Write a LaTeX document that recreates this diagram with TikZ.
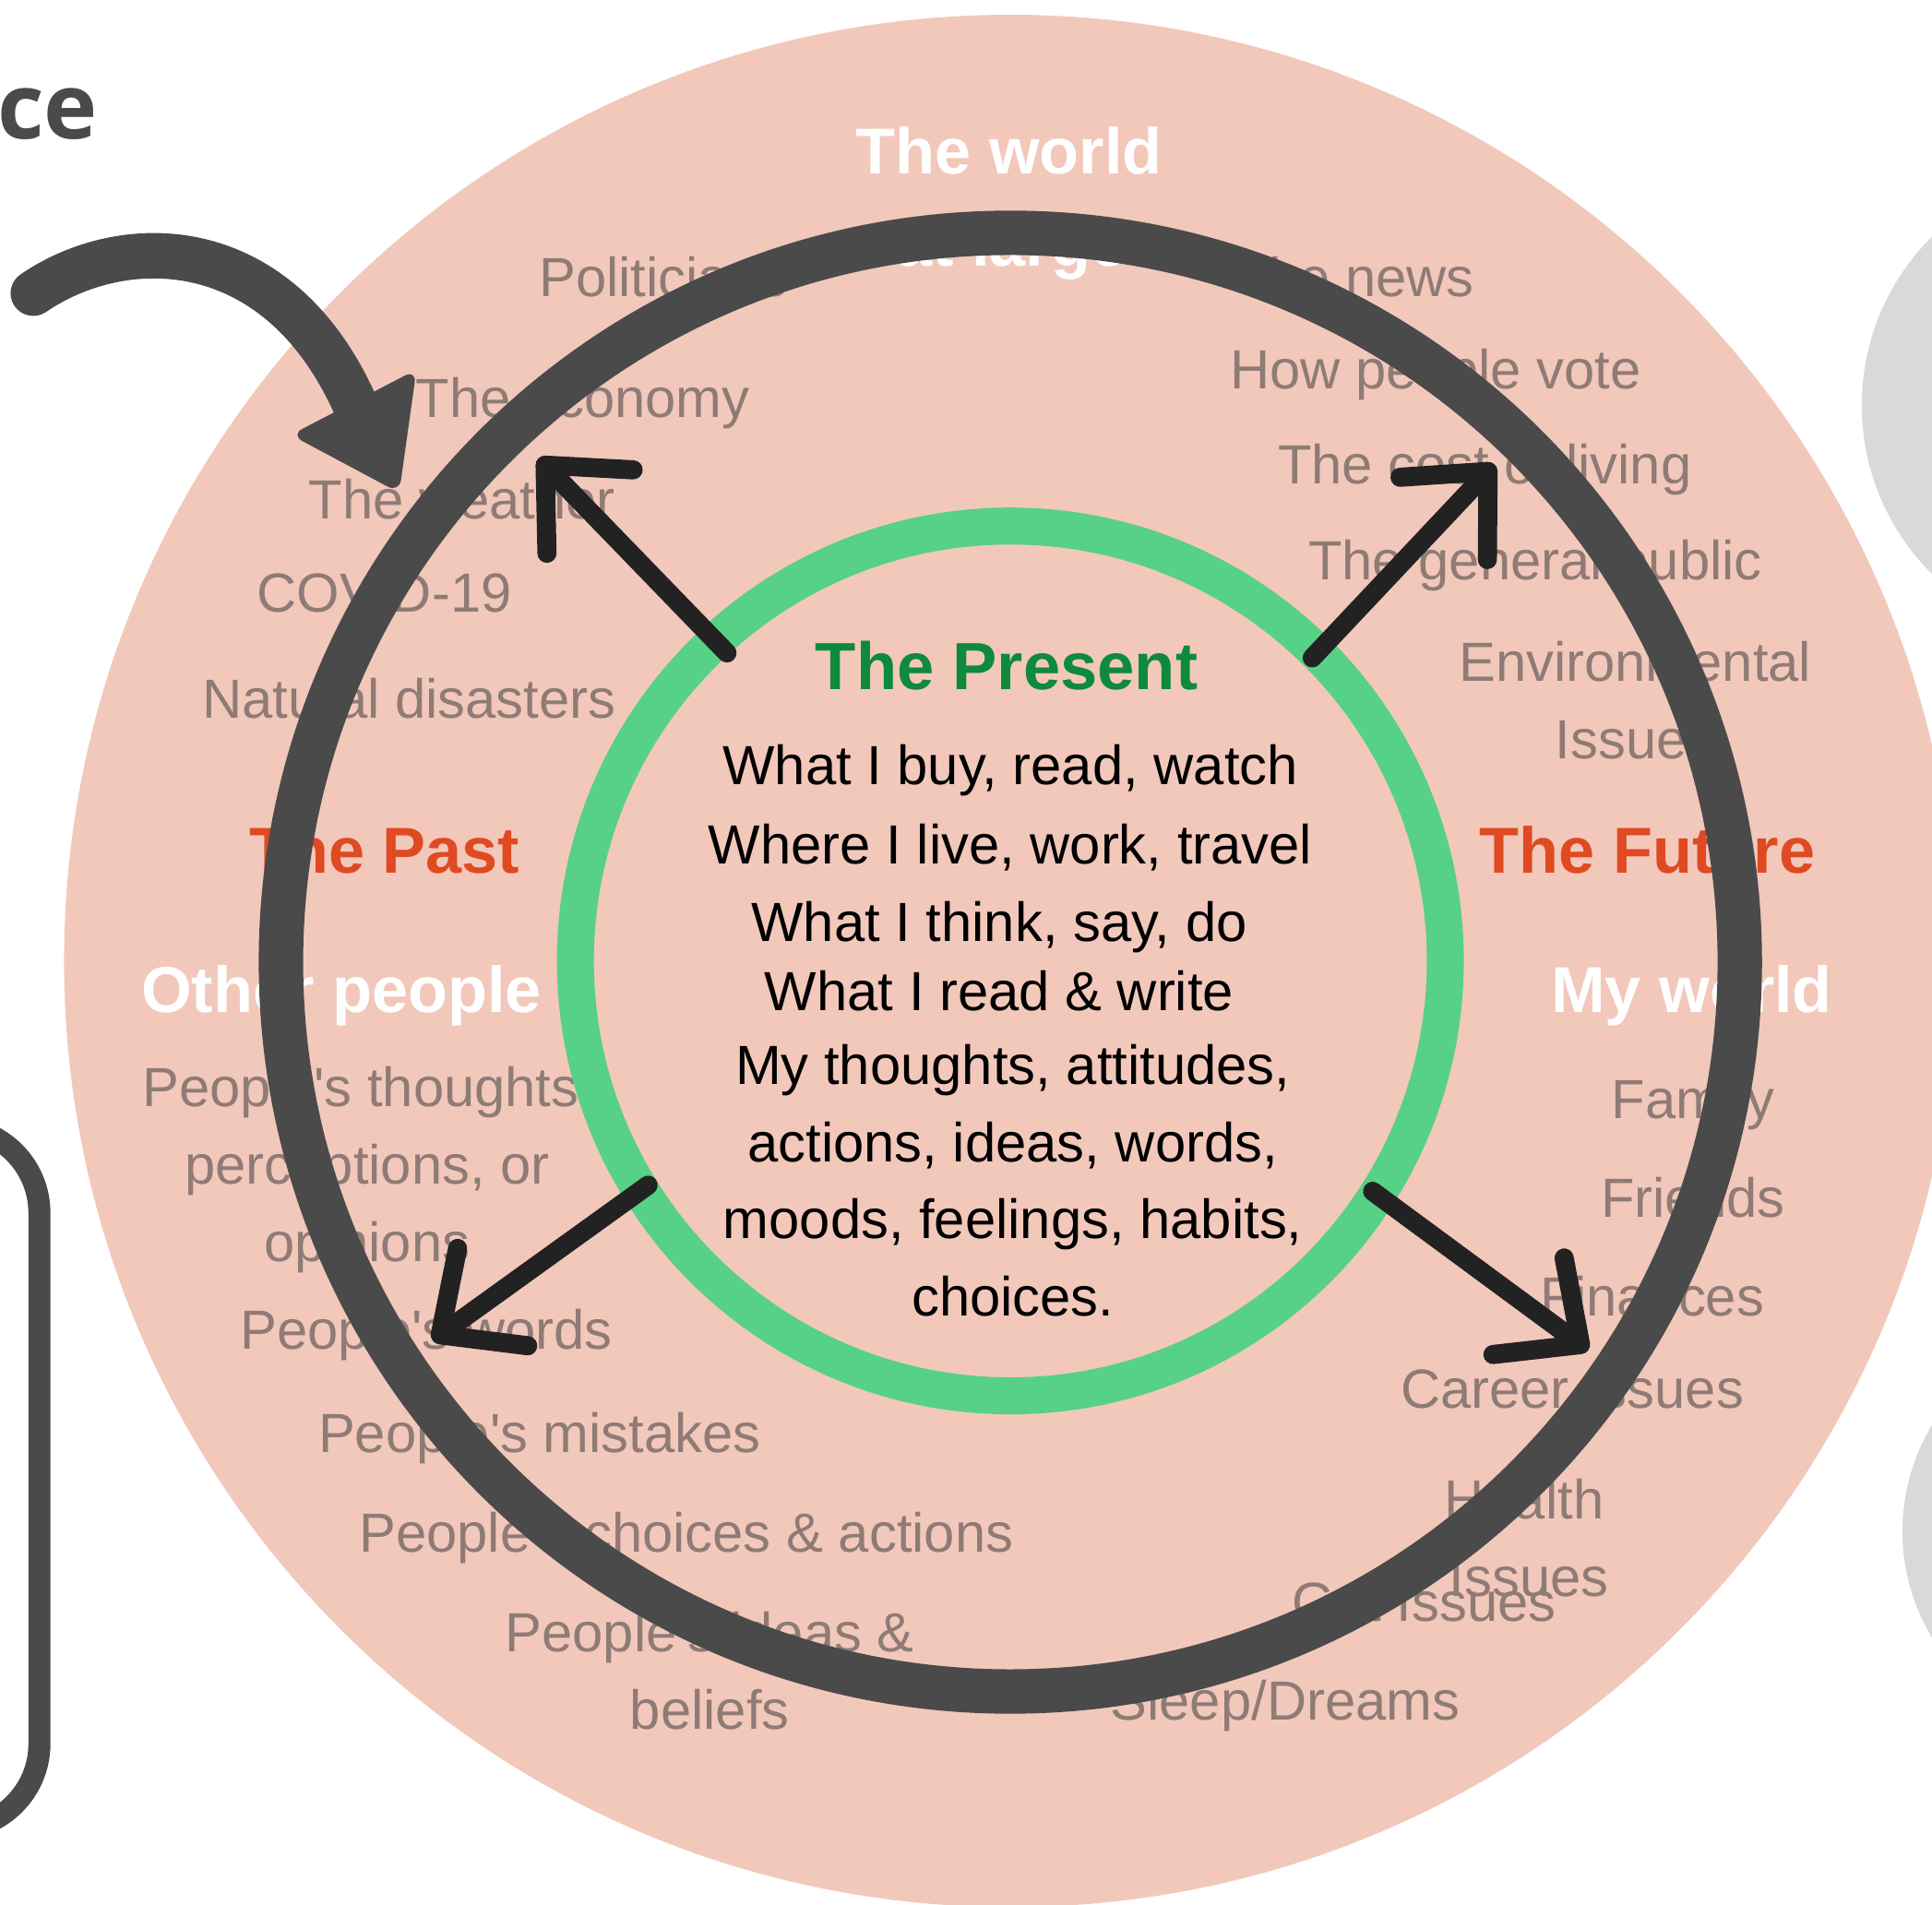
\documentclass[tikz,border=0pt]{standalone}
\usepackage{fontspec}
\setmainfont{Liberation Sans}
\newfontfamily\titlefont{Open Sans}
\usetikzlibrary{arrows.meta}

\definecolor{blush}{HTML}{F2C8BB}
\definecolor{ringgray}{HTML}{4A4A4A}
\definecolor{mint}{HTML}{57D185}
\definecolor{ink}{HTML}{222222}
\definecolor{mute}{HTML}{8F7B75}
\definecolor{rust}{HTML}{DF4A22}
\definecolor{leaf}{HTML}{0E8A3C}
\definecolor{cloud}{HTML}{D9D9D9}

\newcommand{\ppl}{People\textquotesingle s}

\tikzset{
  item/.style={anchor=base, text=mute, font=\fontsize{17}{20}\selectfont, inner sep=0pt},
  inner/.style={anchor=base, text=black, font=\fontsize{17}{20}\selectfont, inner sep=0pt},
  head/.style={anchor=base, font=\fontsize{20}{24}\selectfont\bfseries, inner sep=0pt},
  push/.style={draw=ink, line width=5.9pt, line cap=round,
    -{Straight Barb[round, length=0.7cm, width=1.3cm]}},
}

\begin{document}
\begin{tikzpicture}[x=0.013355cm, y=-0.013355cm]
\useasboundingbox (0,0) rectangle (1568,1546);
% discs
\fill[blush] (820,780) circle (768);
\fill[cloud] (1704,329) circle (193);
\fill[cloud] (1711,1243) circle (167);
%
\node[anchor=base east, text=ringgray, inner sep=0pt,
  font=\titlefont\bfseries\fontsize{28}{30}\selectfont] (ce) at (80,113) {ce};
\draw[ringgray, line width=6.8pt, rounded corners=0.93cm]
  (-150,915) -- (32,915) -- (32,1485) -- (-150,1485);
%
% headings
\node[head, white] (world) at (819,141) {The world};
\node[head, white, anchor=base east] (large) at (915,216) {at large};
\node[head, leaf, font=\fontsize{20.6}{24}\selectfont\bfseries] (present) at (817,560) {The Present};
\node[head, rust] (past) at (312,709) {The Past};
\node[head, rust] (future) at (1337,709) {The Future};
\node[head, white] (others) at (277,822) {Other people};
\node[head, white] (myworld) at (1373,822) {My world};
%
% the world
\node[item, anchor=base west] (pol) at (437,241) {Politicians};
\node[item, anchor=base east] (news) at (1197,241) {The news};
\node[item] (econ) at (473,339) {The economy};
\node[item] (weather) at (375,421) {The weather};
\node[item] (covid) at (312,497) {COVID-19};
\node[item] (disaster) at (332,583) {Natural disasters};
\node[item] (vote) at (1165,316) {How people vote};
\node[item] (cost) at (1205,393) {The cost of living};
\node[item] (public) at (1246,471) {The general public};
\node[item] (env) at (1327,553) {Environmental};
\node[item] (envb) at (1327,616) {Issues};
%
% other people
\node[item, anchor=base west] (thoughts) at (115,898) {\ppl{} thoughts,};
\node[item] (percep) at (298,961) {perceptions, or};
\node[item] (opin) at (298,1024) {opinions};
\node[item] (words) at (346,1095) {\ppl{} words};
\node[item] (mistakes) at (438,1179) {\ppl{} mistakes};
\node[item] (choices) at (557,1260) {\ppl{} choices \& actions};
\node[item] (ideas) at (576,1341) {\ppl{} ideas \&};
\node[item] (beliefs) at (576,1404) {beliefs};
%
% my world
\node[item] (family) at (1374,908) {Family};
\node[item] (friends) at (1374,988) {Friends};
\node[item] (money) at (1341,1068) {Finances};
\node[item] (career) at (1276,1143) {Career Issues};
\node[item] (health) at (1237,1233) {Health};
\node[item] (healthb) at (1241,1296) {Issues};
\node[item] (gut) at (1156,1316) {Gut Issues};
\node[item] (sleep) at (1043,1396) {Sleep/Dreams};
%
% the present
\node[inner] (buy) at (820,637) {What I buy, read, watch};
\node[inner] (live) at (820,701) {Where I live, work, travel};
\node[inner] (think) at (811,764) {What I think, say, do};
\node[inner] (write) at (811,820) {What I read \& write};
\node[inner] (mine) at (822,880) {My thoughts, attitudes,};
\node[inner] (acts) at (822,943) {actions, ideas, words,};
\node[inner] (moods) at (822,1005) {moods, feelings, habits,};
\node[inner] (pick) at (822,1068) {choices.};
%
% rings
\draw[mint, line width=11.4pt] (820,780) circle (353);
\draw[ringgray, line width=13.7pt] (820,781) circle (592);
%
% way in
\coordinate (inA) at (27,238);
\coordinate (inB) at (288,328);
\draw[ringgray, line width=14pt, line cap=round] (inA) .. controls (100,188) and (225,188) .. (inB);
\fill[ringgray, rounded corners=4pt] (338,300) -- (236,353) -- (324,400) -- cycle;
%
% reach out from the present
\coordinate (nwIn) at (590,530);   \coordinate (nwOut) at (437,372);
\coordinate (neIn) at (1065,534);  \coordinate (neOut) at (1213,377);
\coordinate (swIn) at (526,962);   \coordinate (swOut) at (351,1088);
\coordinate (seIn) at (1114,967);  \coordinate (seOut) at (1289,1096);
\draw[push] (nwIn) -- (nwOut);
\draw[push] (neIn) -- (neOut);
\draw[push] (swIn) -- (swOut);
\draw[push] (seIn) -- (seOut);
\end{tikzpicture}
\end{document}
